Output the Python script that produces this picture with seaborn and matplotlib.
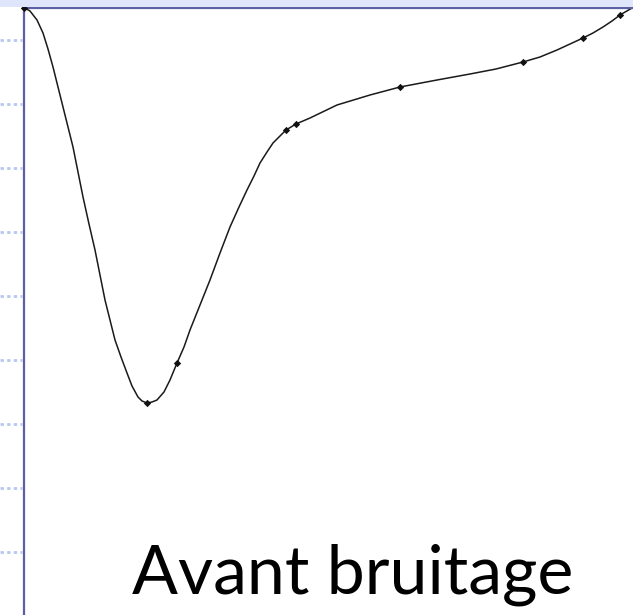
import numpy as np
import pandas as pd
import matplotlib
matplotlib.use("Agg")
import matplotlib.pyplot as plt
import seaborn as sns

# curve (x = horizontal position, y = signal level)
curve_x = [1, 6, 13, 19, 24, 29, 34, 39, 44, 49, 54, 59, 65, 71, 76, 81, 86, 91,
           97, 103, 108, 114, 118, 123, 128, 133, 140, 146, 153, 160, 166, 176,
           186, 196, 206, 215, 223, 230, 236, 243, 249, 256, 262, 272, 286, 313,
           346, 376, 413, 446, 472, 499, 516, 533, 546, 559, 569, 579, 588, 596, 608]
curve_y = [607, 604, 595, 582, 566, 548, 528, 508, 488, 468, 443, 418, 391, 365,
           340, 315, 295, 275, 258, 242, 229, 218, 214, 212, 213, 215, 223, 235,
           252, 268, 285, 310, 335, 362, 388, 408, 425, 439, 452, 463, 472, 479,
           485, 491, 497, 510, 520, 528, 535, 541, 546, 553, 558, 565, 571, 577,
           582, 588, 594, 600, 607]

# sampled points marked on the curve
point_x = [0, 123, 153, 262, 272, 376, 499, 559, 596]
point_y = [607, 212, 252, 485, 491, 528, 553, 577, 600]

grid_y = [575, 511, 447, 383, 319, 255, 191, 127, 63]
label = "Avant bruitage"

sns.set_style("white")

fig = plt.figure(figsize=(6.33, 6.15), dpi=100)
fig.patch.set_facecolor("white")

# light patterned band across the top of the slide
fig.patches.append(plt.Rectangle((0, 1 - 7 / 615), 1, 7 / 615, transform=fig.transFigure,
                                 facecolor="#dfe6fb", edgecolor="none", zorder=0))

ax = fig.add_axes([24 / 633, 0, 609 / 633, 607 / 615])

curve = pd.DataFrame({"x": curve_x, "y": curve_y})
points = pd.DataFrame({"x": point_x, "y": point_y})

sns.lineplot(data=curve, x="x", y="y", sort=False, estimator=None,
             color="#1a1a1a", linewidth=1.1, ax=ax)
sns.scatterplot(data=points, x="x", y="y", color="#111111", marker="D",
                s=14, linewidth=0, ax=ax, clip_on=False, zorder=5)

ax.set_xlim(0, 609)
ax.set_ylim(0, 607)
ax.set_xticks([])
ax.set_yticks([])
ax.set_xlabel("")
ax.set_ylabel("")

for side in ["right", "bottom"]:
    ax.spines[side].set_visible(False)
for side in ["left", "top"]:
    ax.spines[side].set_color("#5b5fa3")
    ax.spines[side].set_linewidth(1.6)

# dotted guide marks to the left of the axis
ax.hlines(grid_y, -24 / 609, -2 / 609, transform=ax.get_yaxis_transform(),
          colors="#b9c8f2", linestyles=(0, (1.2, 1.2)), linewidth=2, clip_on=False)

ax.text(0.54, 0.035, label, transform=ax.transAxes, ha="center", va="baseline",
        fontsize=49, color="black", family=["Lato", "DejaVu Sans"])

fig.savefig("out.png", dpi=100)
